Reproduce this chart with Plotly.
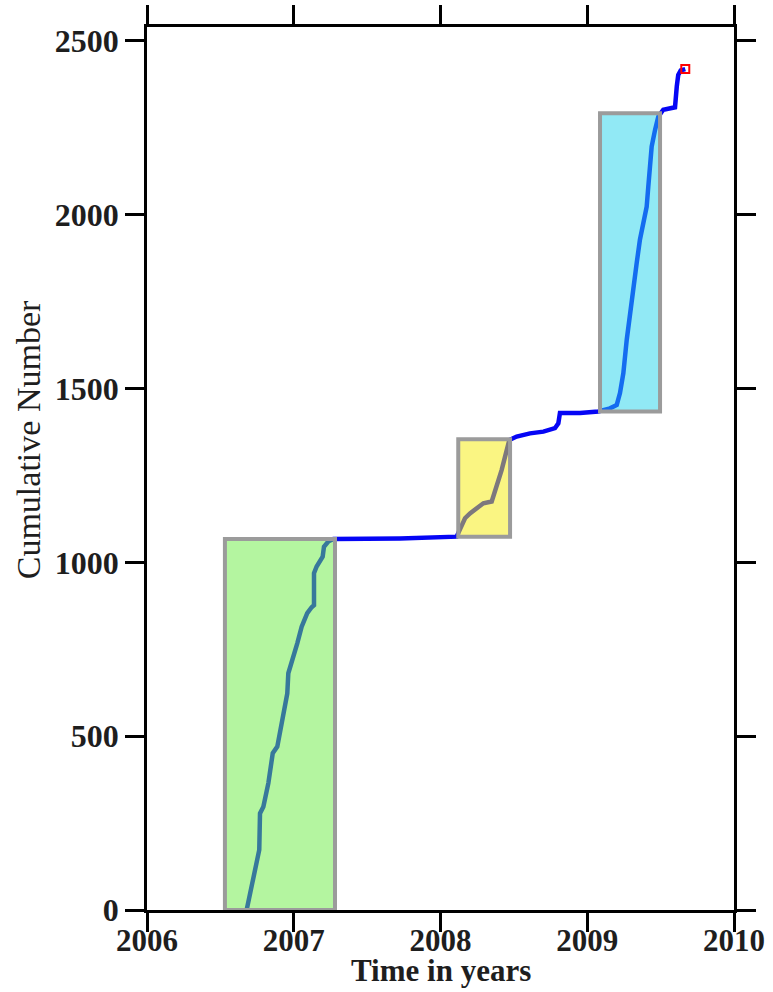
import plotly.graph_objects as go

# Cumulative event count vs. decimal year
years = [
    2006.679, 2006.713, 2006.736, 2006.765, 2006.770, 2006.793, 2006.827, 2006.857,
    2006.888, 2006.918, 2006.956, 2006.963, 2006.986, 2007.024, 2007.054, 2007.092,
    2007.122, 2007.138, 2007.138, 2007.156, 2007.197, 2007.206, 2007.235, 2007.270,
    2007.724, 2008.110, 2008.121, 2008.144, 2008.167, 2008.201, 2008.247, 2008.292,
    2008.349, 2008.371, 2008.394, 2008.417, 2008.440, 2008.451, 2008.469, 2008.519,
    2008.610, 2008.701, 2008.780, 2008.803, 2008.814, 2008.951, 2009.075, 2009.155,
    2009.201, 2009.223, 2009.246, 2009.269, 2009.291, 2009.314, 2009.337, 2009.359,
    2009.382, 2009.405, 2009.416, 2009.428, 2009.439, 2009.462, 2009.484, 2009.518,
    2009.598, 2009.610, 2009.620, 2009.637, 2009.668,
]
cumulative = [
    0, 67, 115, 173, 278, 297, 365, 451,
    470, 537, 623, 681, 710, 767, 815, 854,
    871, 877, 969, 988, 1016, 1045, 1060, 1067,
    1069, 1074, 1084, 1103, 1127, 1141, 1156, 1170,
    1175, 1203, 1228, 1266, 1304, 1323, 1352, 1362,
    1371, 1376, 1386, 1400, 1430, 1430, 1434, 1443,
    1453, 1487, 1544, 1640, 1717, 1793, 1861, 1928,
    1976, 2023, 2081, 2138, 2196, 2244, 2282, 2302,
    2309, 2369, 2402, 2415, 2419,
]

# Last event
last_year = [2009.668]
last_count = [2419]

# Highlighted swarm periods: (start year, end year, low count, high count, fill colour)
period_start = [2006.531, 2008.121, 2009.087]
period_end = [2007.281, 2008.474, 2009.496]
period_low = [0, 1074, 1434]
period_high = [1067, 1354, 2292]
period_fill = ["rgb(105,235,65)", "rgb(245,235,5)", "rgb(35,212,235)"]

x_ticks = [2006, 2007, 2008, 2009, 2010]
y_ticks = [0, 500, 1000, 1500, 2000, 2500]

fig = go.Figure()

fig.add_trace(go.Scatter(
    x=years, y=cumulative, mode="lines",
    line=dict(color="rgb(5,5,245)", width=4.5),
    showlegend=False, hoverinfo="skip",
))
fig.add_trace(go.Scatter(
    x=last_year, y=last_count, mode="markers",
    marker=dict(symbol="square-open", size=8, color="red", line=dict(width=2, color="red")),
    showlegend=False,
))

for x0, x1, y0, y1, c in zip(period_start, period_end, period_low, period_high, period_fill):
    fig.add_shape(type="rect", x0=x0, x1=x1, y0=y0, y1=y1, xref="x", yref="y",
                  fillcolor=c, opacity=0.5, line=dict(width=0), layer="above")
    fig.add_shape(type="rect", x0=x0, x1=x1, y0=y0, y1=y1, xref="x", yref="y",
                  fillcolor="rgba(0,0,0,0)", line=dict(color="rgb(155,155,155)", width=4),
                  layer="above")

serif = "Liberation Serif"
ink = "#1e1e1e"
axis_common = dict(
    showline=True, linecolor="black", linewidth=2.5, mirror="allticks",
    ticks="outside", ticklen=19, tickwidth=2.5, tickcolor="black",
    showgrid=False, zeroline=False, automargin=False,
)

fig.update_xaxes(
    range=[2006, 2010], tickvals=x_ticks, ticktext=[str(v) for v in x_ticks],
    ticklabelstandoff=-18,
    tickfont=dict(family=serif, size=31, color=ink, weight="bold"),
    **axis_common,
)
fig.update_yaxes(
    range=[0, 2540], tickvals=y_ticks, ticktext=[str(v) for v in y_ticks],
    tickfont=dict(family=serif, size=32, color=ink, weight="bold"),
    **axis_common,
)

# Axis titles placed as paper-anchored annotations
fig.add_annotation(
    text="Time in years", xref="paper", yref="paper", x=0.5, y=-0.0906,
    xanchor="center", yanchor="bottom", showarrow=False,
    font=dict(family=serif, size=31, color=ink, weight="bold"),
)
fig.add_annotation(
    text="Cumulative Number", xref="paper", yref="paper", x=-0.2027, y=0.532,
    xanchor="center", yanchor="middle", showarrow=False, textangle=-90,
    font=dict(family=serif, size=34, color=ink),
)

fig.update_layout(
    width=773, height=992,
    margin=dict(l=147, r=39, t=27, b=82),
    plot_bgcolor="white", paper_bgcolor="white",
)

fig.write_html("out.html")
